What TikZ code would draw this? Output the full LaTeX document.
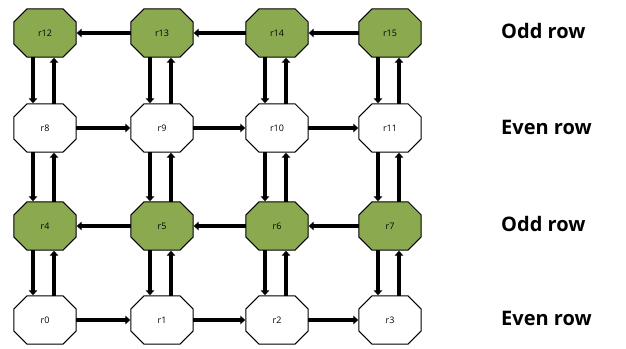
\documentclass[tikz,border=0pt]{standalone}
\usepackage{fontspec}
\setmainfont{Open Sans}
\usetikzlibrary{arrows.meta,backgrounds}
\definecolor{rgreen}{RGB}{139,170,80}
\tikzset{
  router/.style={rectangle, draw=none, minimum width=62pt, minimum height=48pt, inner sep=0pt,
    font=\fontsize{9}{10}\selectfont},
  octo/.style={draw=black, line width=1pt},
  link/.style={line width=4pt, -{Triangle[length=5pt,width=8.5pt]}, shorten >=0.5pt},
  rowlab/.style={anchor=west, font=\bfseries\fontsize{20}{23}\selectfont, inner sep=0pt}
}
\begin{document}
\begin{tikzpicture}[x=1pt,y=1pt]
\useasboundingbox (0,0) rectangle (626,348);
\def\xa{45}\def\xb{162}\def\xc{277}\def\xd{390}
\def\ya{315}\def\yb{220}\def\yc{122}\def\yd{28}
% nodes
\node[router] (r12) at (\xa,\ya) {r12};
\node[router] (r13) at (\xb,\ya) {r13};
\node[router] (r14) at (\xc,\ya) {r14};
\node[router] (r15) at (\xd,\ya) {r15};
\node[router] (r8) at (\xa,\yb) {r8};
\node[router] (r9) at (\xb,\yb) {r9};
\node[router] (r10) at (\xc,\yb) {r10};
\node[router] (r11) at (\xd,\yb) {r11};
\node[router] (r4) at (\xa,\yc) {r4};
\node[router] (r5) at (\xb,\yc) {r5};
\node[router] (r6) at (\xc,\yc) {r6};
\node[router] (r7) at (\xd,\yc) {r7};
\node[router] (r0) at (\xa,\yd) {r0};
\node[router] (r1) at (\xb,\yd) {r1};
\node[router] (r2) at (\xc,\yd) {r2};
\node[router] (r3) at (\xd,\yd) {r3};
% octagon outlines behind text
\begin{scope}[on background layer]
\foreach \n/\c in {r12/rgreen,r13/rgreen,r14/rgreen,r15/rgreen,r8/white,r9/white,r10/white,r11/white,
                   r4/rgreen,r5/rgreen,r6/rgreen,r7/rgreen,r0/white,r1/white,r2/white,r3/white}
  \draw[octo, fill=\c] ([xshift=-18pt]\n.north) -- ([xshift=18pt]\n.north)
     -- ([yshift=11pt]\n.east) -- ([yshift=-11pt]\n.east)
     -- ([xshift=18pt]\n.south) -- ([xshift=-18pt]\n.south)
     -- ([yshift=-11pt]\n.west) -- ([yshift=11pt]\n.west) -- cycle;
\end{scope}
% horizontal links
\foreach \a/\b in {r13/r12,r14/r13,r15/r14,r5/r4,r6/r5,r7/r6,r8/r9,r9/r10,r10/r11,r0/r1,r1/r2,r2/r3}
  \draw[link] (\a) -- (\b);
% vertical links
\foreach \u/\l in {r12/r8,r13/r9,r14/r10,r15/r11,r8/r4,r9/r5,r10/r6,r11/r7,r4/r0,r5/r1,r6/r2,r7/r3}{
  \draw[link] ([xshift=-12pt]\u.south) -- ([xshift=-12pt]\l.north);
  \draw[link] ([xshift=9pt]\l.north) -- ([xshift=9pt]\u.south);
}
% row labels
\node[rowlab] (l1) at (501,\ya+2) {Odd row};
\node[rowlab] (l2) at (501,\yb+1) {Even row};
\node[rowlab] (l3) at (501,\yc+2) {Odd row};
\node[rowlab] (l4) at (501,\yd+2) {Even row};
\end{tikzpicture}
\end{document}
